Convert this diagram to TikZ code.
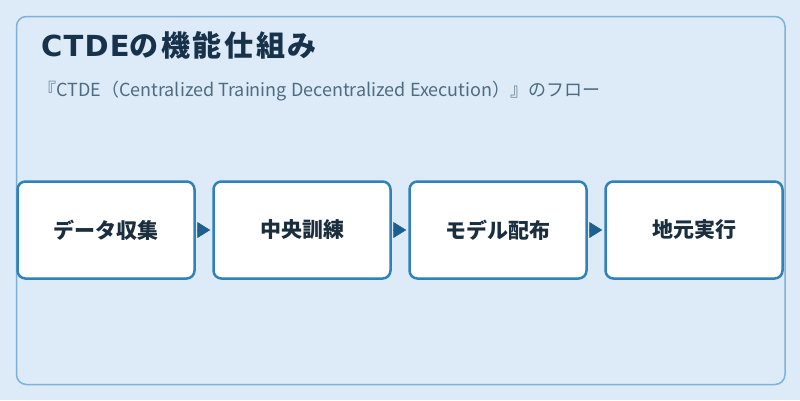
\documentclass[tikz,border=0pt]{standalone}
\usepackage{fontspec}
\setmainfont{Noto Sans CJK JP}
\newfontfamily\ctdelatin{DejaVu Sans}
\usepackage{xcolor}
\usetikzlibrary{arrows.meta}
\usetikzlibrary{calc}

\definecolor{ctdebg}{HTML}{DCEBF7}
\definecolor{ctdeframe}{HTML}{7FB2D8}
\definecolor{ctdeboxline}{HTML}{2E81BA}
\definecolor{ctdearrowc}{HTML}{1F5F8F}
\definecolor{ctdetitle}{HTML}{17324A}
\definecolor{ctdesub}{HTML}{4F6B80}
\definecolor{ctdetext}{HTML}{1A2E3E}

\tikzset{
    ctdebox/.style={draw=ctdeboxline, line width=2.5pt, fill=white, rounded corners=8pt,
        minimum width=177pt, minimum height=97pt, inner sep=0pt,
        text=ctdetext, font=\fontsize{21pt}{24pt}\selectfont\bfseries},
    ctdearrow/.style={draw=ctdearrowc, line width=0.5pt,
        -{Triangle[length=13pt,width=16pt]}, shorten <=3pt, shorten >=2pt}
}

\begin{document}
\begin{tikzpicture}[x=1pt,y=-1pt]
        \newcommand{\ctdeboxx}{106}
        \newcommand{\ctdeboxy}{230}
        \newcommand{\ctdeboxstep}{196}
        \fill[ctdebg] (0,0) rectangle (800,400);
        \useasboundingbox (0,0) rectangle (800,400);
        \draw[ctdeframe, line width=1.5pt, rounded corners=10pt] (16.5,16.5) rectangle (785,384.5);
        \node[anchor=base west, inner sep=0pt, text=ctdetitle,
            font=\fontsize{29pt}{32pt}\selectfont\bfseries\addfontfeature{LetterSpace=9}]
            (title) at (41,56) {{\ctdelatin\addfontfeature{LetterSpace=4}CTDE}の機能仕組み};
        \node[anchor=base west, inner sep=0pt, text=ctdesub, font=\fontsize{18pt}{20pt}\selectfont]
            (subtitle) at (38,96.5) {『CTDE（Centralized Training Decentralized Execution）』のフロー};
        \node[ctdebox] (collect) at (\ctdeboxx,\ctdeboxy) {データ収集};
        \node[ctdebox] (train) at (\ctdeboxx+\ctdeboxstep,\ctdeboxy) {中央訓練};
        \node[ctdebox] (deploy) at (\ctdeboxx+2*\ctdeboxstep,\ctdeboxy) {モデル配布};
        \node[ctdebox] (execute) at (\ctdeboxx+3*\ctdeboxstep,\ctdeboxy) {地元実行};
        \draw[ctdearrow] (collect) -- (train);
        \draw[ctdearrow] (train) -- (deploy);
        \draw[ctdearrow] (deploy) -- (execute);
    \end{tikzpicture}
\end{document}
